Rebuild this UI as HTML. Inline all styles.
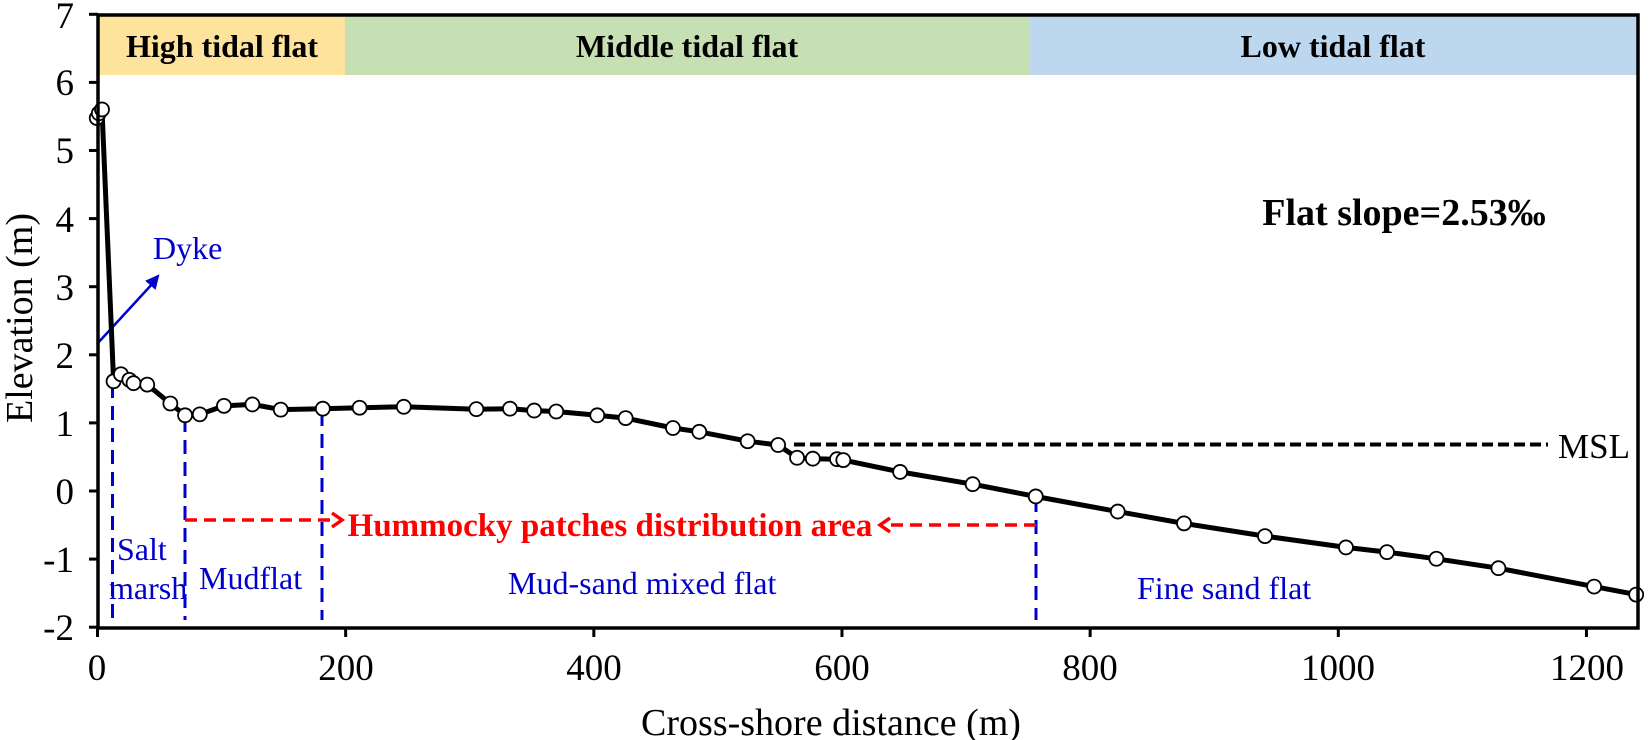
<!DOCTYPE html>
<html><head><meta charset="utf-8"><style>
html,body{margin:0;padding:0;background:#fff}
svg{display:block}
text{font-family:"Liberation Serif",serif}
</style></head><body>
<svg id="s" width="1649" height="740" xmlns="http://www.w3.org/2000/svg" style="position:absolute;left:0;top:0">
<rect x="98" y="15" width="247" height="60" fill="#fde39c"/>
<rect x="345" y="15" width="684" height="60" fill="#c6e0b4"/>
<rect x="1029" y="15" width="608" height="60" fill="#bdd7ee"/>
<g font-weight="bold" font-size="32" text-anchor="middle" fill="#000">
<text x="222" y="57">High tidal flat</text>
<text x="687" y="57">Middle tidal flat</text>
<text x="1333" y="57">Low tidal flat</text>
</g>
<g id="ticks" stroke="#000" stroke-width="3"></g>
<g font-size="37" fill="#000" text-anchor="end">
<text x="74" y="504">0</text><text x="74" y="436">1</text><text x="74" y="368">2</text><text x="74" y="300">3</text><text x="74" y="232">4</text><text x="74" y="163">5</text><text x="74" y="95">6</text><text x="74" y="28">7</text><text x="74" y="572">-1</text><text x="74" y="640">-2</text>
</g>
<g font-size="37" fill="#000" text-anchor="middle">
<text x="97" y="680">0</text><text x="346" y="680">200</text><text x="594" y="680">400</text><text x="842" y="680">600</text><text x="1090" y="680">800</text><text x="1338" y="680">1000</text><text x="1587" y="680">1200</text>
</g>
<text x="831" y="735" font-size="38" text-anchor="middle">Cross-shore distance (m)</text>
<text transform="translate(32,318) rotate(-90)" font-size="38" text-anchor="middle">Elevation (m)</text>
<g stroke="#0000cc" stroke-width="3" stroke-dasharray="14,8" fill="none">
<line x1="112.5" y1="384" x2="112.5" y2="620"/>
<line x1="185" y1="418" x2="185" y2="620"/>
<line x1="322" y1="412" x2="322" y2="620"/>
<line x1="1036" y1="498" x2="1036" y2="620"/>
</g>
<line x1="794" y1="444.5" x2="1548" y2="444.5" stroke="#000" stroke-width="4" stroke-dasharray="11,5"/>
<text x="1558" y="458" font-size="35">MSL</text>
<g stroke="#ff0000" stroke-width="3.5" fill="none">
<line x1="185" y1="520" x2="335" y2="520" stroke-dasharray="12,7"/>
<path d="M332 513 L342 520 L332 527"/>
<line x1="1036" y1="525" x2="888" y2="525" stroke-dasharray="12,7"/>
<path d="M890 518 L880 525 L890 532"/>
</g>
<text x="610" y="536" font-size="33" font-weight="bold" fill="#ff0000" text-anchor="middle">Hummocky patches distribution area</text>
<text x="1404" y="225" font-size="38" font-weight="bold" text-anchor="middle">Flat slope=2.53‰</text>
<line x1="97" y1="344" x2="154" y2="282" stroke="#0000cc" stroke-width="2.5"/>
<path d="M158 276 L147 281 L155 288 Z" fill="#0000cc" stroke="#0000cc" stroke-width="2"/>
<g fill="#0000cc" font-size="32">
<text x="153" y="259">Dyke</text>
<text x="117" y="560">Salt</text>
<text x="109" y="599">marsh</text>
<text x="199" y="589">Mudflat</text>
<text x="508" y="594">Mud-sand mixed flat</text>
<text x="1137" y="599">Fine sand flat</text>
</g>
<polyline id="curve" fill="none" stroke="#000" stroke-width="5" stroke-linejoin="round"/>
<g id="pts" fill="#fff" stroke="#000" stroke-width="1.8"></g>
<rect x="98" y="15" width="1540" height="613" fill="none" stroke="#000" stroke-width="3.5"/>
</svg>
<script>
var NS="http://www.w3.org/2000/svg";
function el(t,a,p){var e=document.createElementNS(NS,t);for(var k in a)e.setAttribute(k,a[k]);document.getElementById(p).appendChild(e);return e;}
for(var v=-2;v<=7;v++){var y=491-68.1*v;el("line",{x1:89,y1:y,x2:98,y2:y},"ticks");}
for(var d=0;d<=1200;d+=200){var x=97.5+1.2408*d;el("line",{x1:x,y1:628,x2:x,y2:637},"ticks");}
var z=[[92,250],[94,240],[97,232],[108,808],[115,793],[123,805],[127,812],[140,815],[162,855],[176,880],[190,878],[213,860],[240,857],[267,868],[307,866],[342,864],[384,862],[453,867],[485,866],[508,870],[529,872],[568,880],[595,886],[640,907],[665,915],[711,935],[740,943],[758,970],[773,972],[796,973],[802,975],[856,1000],[925,1026],[985,1052],[1063,1084],[1126,1109],[1203,1136],[1280,1160],[1319,1170],[1366,1184],[1425,1204],[1516,1243],[1556,1260]];
var s=[];
for(var i=0;i<z.length;i++){var px=z[i][0]/0.951,py=z[i][1]/2.119;s.push(px.toFixed(1)+","+py.toFixed(1));el("circle",{cx:px,cy:py,r:7},"pts");}
document.getElementById("curve").setAttribute("points",s.join(" "));
</script>
</body></html>
